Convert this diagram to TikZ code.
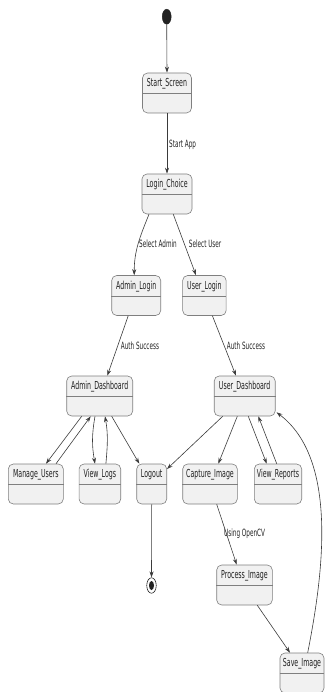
\documentclass[tikz,border=0pt]{standalone}
\usepackage{fontspec}
\newfontfamily\dvs[FakeStretch=0.57]{DejaVu Sans}
\usetikzlibrary{arrows.meta,shapes.geometric}
\definecolor{boxfill}{HTML}{F1F1F1}
\definecolor{boxline}{HTML}{7F7F7F}
\definecolor{edgec}{HTML}{3A3A3A}
\definecolor{ink}{HTML}{222222}
\tikzset{
  stbox/.style={draw=boxline, fill=boxfill, rounded corners=5pt, minimum height=40pt, inner sep=0pt, line width=0.6pt},
  stname/.style={font=\dvs\fontsize{11}{13}\selectfont, text=ink, anchor=base, inner sep=0pt},
  tlabel/.style={font=\dvs\fontsize{10}{12}\selectfont, text=ink, anchor=base west, inner sep=0pt},
  tr/.style={draw=edgec, line width=0.6pt, -{Stealth[length=6pt,width=4pt,inset=2pt]}},
  sepline/.style={draw=boxline, line width=0.6pt}
}
\newcommand\mkstate[5]{%
  \node[stbox, minimum width=#4pt] (#1) at (#2,-#3) {};
  \draw[sepline] ([yshift=-21pt]#1.north west) -- ([yshift=-21pt]#1.north east);
  \node[stname] (#1t) at ([yshift=-14pt]#1.north) {#5};
}
\begin{document}
\begin{tikzpicture}[x=1pt,y=1pt]
\useasboundingbox (0,0) rectangle (325,-692);
% start / end
\node[ellipse, fill=ink, draw=ink, minimum width=9pt, minimum height=15pt, inner sep=0pt] (start) at (166.7,-16.7) {};
\node[ellipse, draw=ink, line width=0.6pt, minimum width=9.5pt, minimum height=15.5pt, inner sep=0pt] (endo) at (151.5,-585.5) {};
\node[ellipse, fill=ink, minimum width=5pt, minimum height=9pt, inner sep=0pt] (endi) at (151.5,-585.5) {};
% states
\mkstate{SS}{167}{93}{49}{Start\_Screen}
\mkstate{LC}{167}{194}{50}{Login\_Choice}
\mkstate{AL}{136.2}{295.5}{49}{Admin\_Login}
\mkstate{UL}{204.4}{295.5}{43.5}{User\_Login}
\mkstate{AD}{99.7}{396}{66}{Admin\_Dashboard}
\mkstate{UD}{244.7}{396}{61}{User\_Dashboard}
\mkstate{MU}{35.8}{484}{55}{Manage\_Users}
\mkstate{VL}{99.9}{484}{41.7}{View\_Logs}
\mkstate{LO}{151.7}{484}{30}{Logout}
\mkstate{CI}{210}{484}{54.6}{Capture\_Image}
\mkstate{VR}{278}{484}{47.4}{View\_Reports}
\mkstate{PI}{244.5}{585}{55.6}{Process\_Image}
\mkstate{SI}{302}{673}{44}{Save\_Image}
% transitions
\draw[tr] (start.south) -- (SS.north);
\draw[tr] (SS.south) -- (LC.north);
\node[tlabel] (lstart) at (169,-147.5) {Start App};
\draw[tr] ([xshift=-18pt]LC.south) to[out=-112,in=90] ([xshift=-2pt]AL.north);
\node[tlabel] (lsa) at (139,-247.5) {Select Admin};
\draw[tr] ([xshift=6.3pt]LC.south) -- ([xshift=-8.4pt]UL.north);
\node[tlabel] (lsu) at (188.7,-247.5) {Select User};
\draw[tr] ([xshift=-8pt]AL.south) -- ([xshift=7.6pt]AD.north);
\node[tlabel] (las1) at (120.7,-349) {Auth Success};
\draw[tr] ([xshift=8pt]UL.south) -- ([xshift=-8.7pt]UD.north);
\node[tlabel] (las2) at (226.7,-349) {Auth Success};
% admin children
\draw[tr] ([xshift=-18pt]AD.south) -- ([xshift=10.2pt]MU.north);
\draw[tr] ([xshift=20.2pt]MU.north) -- ([xshift=-9pt]AD.south);
\draw[tr] ([xshift=-4.7pt]AD.south) to[out=-100,in=100] ([xshift=-4.9pt]VL.north);
\draw[tr] ([xshift=6pt]VL.north) to[out=85,in=-80] ([xshift=5.3pt]AD.south);
\draw[tr] ([xshift=12pt]AD.south) -- ([xshift=-12.4pt]LO.north);
% user children
\draw[tr] ([xshift=-22pt]UD.south) -- ([yshift=15pt]LO.east);
\draw[tr] ([xshift=-7.4pt]UD.south) -- ([xshift=8.3pt]CI.north);
\draw[tr] ([xshift=3.6pt]UD.south) -- ([xshift=-11.3pt]VR.north);
\draw[tr] ([xshift=-1.3pt]VR.north) -- ([xshift=13.6pt]UD.south);
\draw[tr] (LO.south) -- (endo.north);
\draw[tr] ([xshift=6.7pt]CI.south) -- ([xshift=-7.8pt]PI.north);
\node[tlabel] (locv) at (224,-536.5) {Using OpenCV};
\draw[tr] ([xshift=12.8pt]PI.south) -- ([xshift=-12pt]SI.north);
\draw[tr] ([xshift=5.7pt]SI.north) .. controls (322,-580) and (340,-460) .. ([xshift=1pt,yshift=4pt]UD.south east);
\end{tikzpicture}
\end{document}
